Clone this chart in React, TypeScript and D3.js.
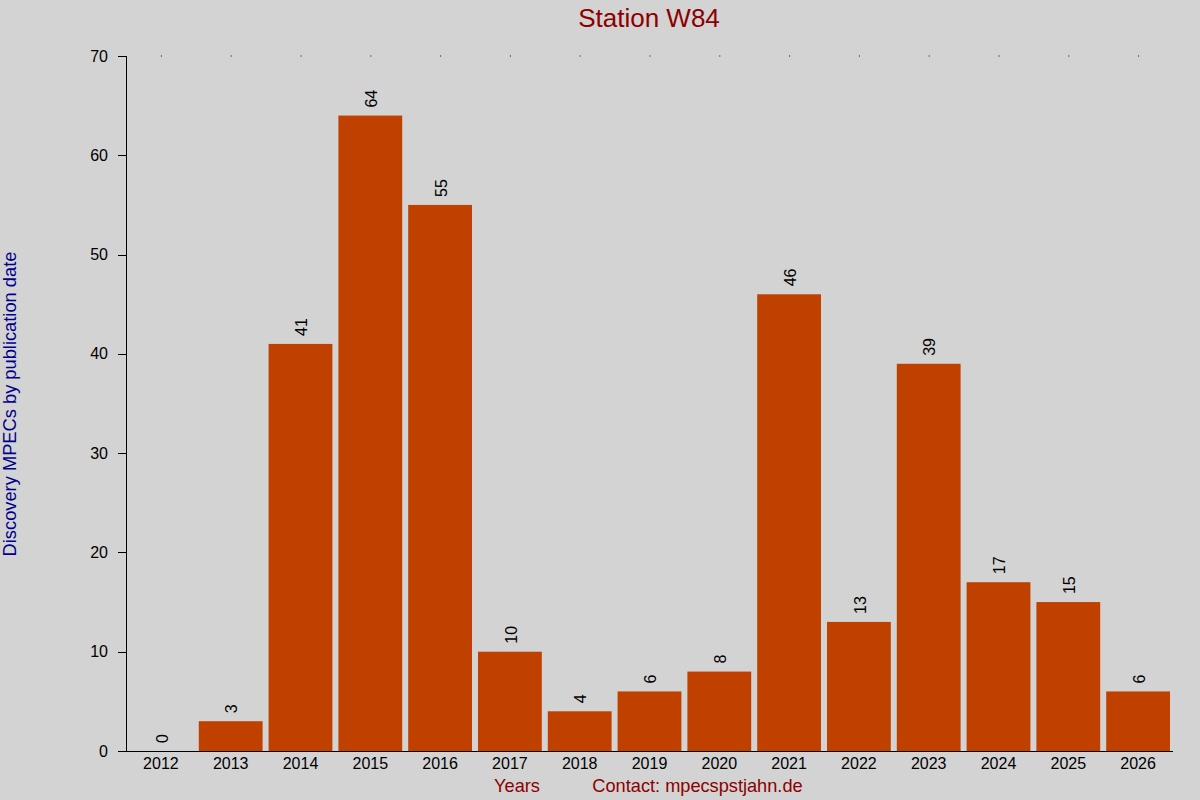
import React from 'react';
import * as d3 from 'd3';

// data
const years = ['2012', '2013', '2014', '2015', '2016', '2017', '2018', '2019', '2020', '2021', '2022', '2023', '2024', '2025', '2026'];
const counts = [0, 3, 41, 64, 55, 10, 4, 6, 8, 46, 13, 39, 17, 15, 6];
const yTicks = [0, 10, 20, 30, 40, 50, 60, 70];

const W = 1200;
const H = 800;
const FONT = '"Liberation Sans", Arial, sans-serif';

const App: React.FC = () => {
  const margin = { top: 56, right: 27, bottom: 49, left: 126 };

  const x = d3.scaleBand<string>()
    .domain(years)
    .range([margin.left, W - margin.right])
    .paddingInner(0.086)
    .paddingOuter(0.043);

  const y = d3.scaleLinear()
    .domain([0, 70])
    .range([H - margin.bottom, margin.top]);

  const y0 = y(0);
  const half = x.bandwidth() / 2;

  return (
    <svg
      width={W}
      height={H}
      style={{ position: 'absolute', left: 0, top: 0, background: '#d3d3d3' }}
      fontFamily={FONT}
    >
      <rect x={0} y={0} width={W} height={H} fill="#d3d3d3" />

      {/* Title */}
      <text x={649} y={27} textAnchor="middle" fontSize={26} fill="#8b0000">
        Station W84
      </text>

      {/* Bars */}
      {years.map((yr, i) => (
        <rect
          key={yr}
          x={x(yr)!}
          y={y(counts[i])}
          width={x.bandwidth()}
          height={y0 - y(counts[i])}
          fill="#c04000"
        />
      ))}

      {/* Value labels */}
      {years.map((yr, i) => {
        const cx = x(yr)! + half + 1;
        const cy = y(counts[i]) - 8;
        return (
          <text
            key={'v' + yr}
            transform={`translate(${cx},${cy}) rotate(-90)`}
            dy="0.35em"
            fontSize={16}
            fill="#000"
            textAnchor="start"
          >
            {counts[i]}
          </text>
        );
      })}

      {/* Top dots at band centres */}
      {years.map(yr => (
        <rect key={'d' + yr} x={x(yr)! + half} y={margin.top - 0.5} width={1} height={1} fill="#000" />
      ))}

      {/* Y axis */}
      <line x1={margin.left + 0.5} x2={margin.left + 0.5} y1={margin.top} y2={y0 + 0.5} stroke="#000" />
      {yTicks.map(t => (
        <g key={'t' + t}>
          <line x1={margin.left - 8} x2={margin.left} y1={Math.round(y(t)) + 0.5} y2={Math.round(y(t)) + 0.5} stroke="#000" />
          <text x={margin.left - 18} y={y(t)} dy="0.35em" textAnchor="end" fontSize={16} fill="#000">
            {t}
          </text>
        </g>
      ))}

      {/* X axis */}
      <line x1={margin.left} x2={W - margin.right} y1={Math.round(y0) + 0.5} y2={Math.round(y0) + 0.5} stroke="#000" />
      {years.map(yr => (
        <text key={'x' + yr} x={x(yr)! + half} y={769} textAnchor="middle" fontSize={16} fill="#000">
          {yr}
        </text>
      ))}

      {/* Axis titles */}
      <text
        transform="translate(16,404) rotate(-90)"
        textAnchor="middle"
        fontSize={18.3}
        fill="#00008b"
      >
        Discovery MPECs by publication date
      </text>
      <text x={517} y={792} textAnchor="middle" fontSize={18.2} fill="#8b0000">
        Years
      </text>
      <text x={697.5} y={792} textAnchor="middle" fontSize={18.2} fill="#8b0000">
        Contact: mpecspstjahn.de
      </text>
    </svg>
  );
};

export default App;
